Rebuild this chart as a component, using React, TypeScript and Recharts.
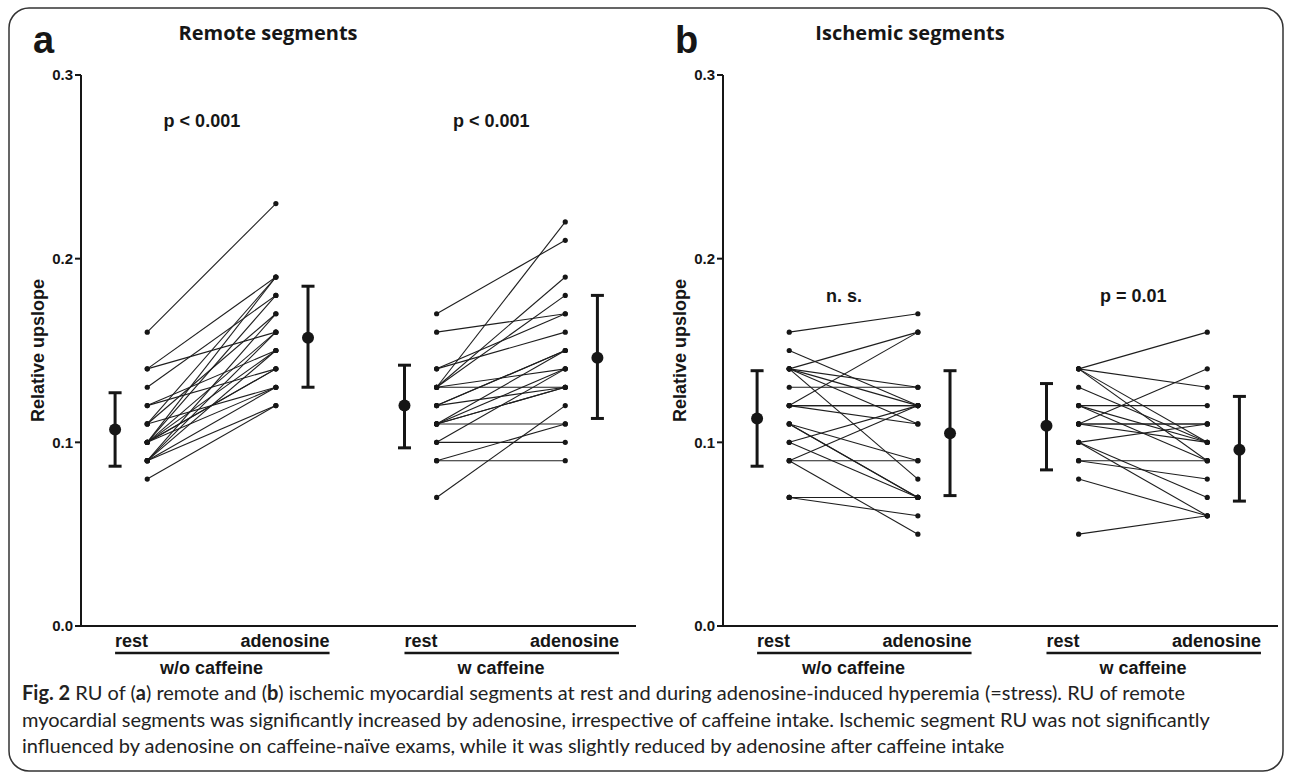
import React from 'react'
import { ComposedChart, Scatter, XAxis, YAxis, ErrorBar, Label } from 'recharts'

// x slots (chart units): mean bar, rest dots, adenosine dots, mean bar; 2nd group shifted
const MEAN_REST_X = 1
const REST_X = 2
const ADEN_X = 6
const MEAN_ADEN_X = 7
const GROUP_SHIFT = 9
const GROUP_TICKS = [4, 13]
const NOTE_X = [3.7, 12.7]

const groupLabels = ['w/o caffeine', 'w caffeine']
const phaseLabels = ['rest', 'adenosine']
const yTicks = [0, 0.1, 0.2, 0.3]

// remote segments, [rest, adenosine] per exam
const remoteNoCaffeine: [number, number][] = [
  [0.16, 0.23], [0.14, 0.19], [0.14, 0.16], [0.13, 0.18], [0.12, 0.14], [0.12, 0.15],
  [0.11, 0.19], [0.11, 0.17], [0.11, 0.13], [0.10, 0.19], [0.10, 0.18], [0.10, 0.16],
  [0.10, 0.15], [0.10, 0.14], [0.10, 0.13], [0.10, 0.14], [0.09, 0.17], [0.09, 0.16],
  [0.09, 0.15], [0.09, 0.13], [0.09, 0.12], [0.08, 0.12],
]
const remoteCaffeine: [number, number][] = [
  [0.17, 0.21], [0.16, 0.17], [0.14, 0.17], [0.14, 0.16], [0.13, 0.22], [0.13, 0.19],
  [0.13, 0.18], [0.13, 0.13], [0.13, 0.14], [0.12, 0.15], [0.12, 0.15], [0.12, 0.13],
  [0.11, 0.15], [0.11, 0.14], [0.11, 0.13], [0.11, 0.13], [0.11, 0.11], [0.10, 0.10],
  [0.10, 0.14], [0.09, 0.09], [0.09, 0.11], [0.07, 0.12],
]

// ischemic segments
const ischemicNoCaffeine: [number, number][] = [
  [0.16, 0.17], [0.15, 0.12], [0.14, 0.16], [0.14, 0.13], [0.14, 0.12], [0.14, 0.11],
  [0.14, 0.08], [0.13, 0.13], [0.12, 0.16], [0.12, 0.12], [0.12, 0.12], [0.12, 0.11],
  [0.11, 0.09], [0.11, 0.07], [0.11, 0.07], [0.10, 0.12], [0.10, 0.07], [0.09, 0.09],
  [0.09, 0.12], [0.09, 0.05], [0.07, 0.07], [0.07, 0.07], [0.07, 0.06],
]
const ischemicCaffeine: [number, number][] = [
  [0.14, 0.16], [0.14, 0.13], [0.14, 0.09], [0.14, 0.10], [0.13, 0.10], [0.12, 0.12],
  [0.12, 0.09], [0.12, 0.10], [0.11, 0.14], [0.11, 0.11], [0.11, 0.11], [0.11, 0.10],
  [0.10, 0.11], [0.10, 0.07], [0.10, 0.06], [0.09, 0.09], [0.09, 0.08], [0.08, 0.06],
  [0.05, 0.06],
]

// [mean, lower, upper]: w/o rest, w/o adenosine, w rest, w adenosine
const remoteMeans = [[0.107, 0.087, 0.127], [0.157, 0.13, 0.185], [0.12, 0.097, 0.142], [0.146, 0.113, 0.18]]
const ischemicMeans = [[0.113, 0.087, 0.139], [0.105, 0.071, 0.139], [0.109, 0.085, 0.132], [0.096, 0.068, 0.125]]

const remoteNotes = ['p < 0.001', 'p < 0.001']
const ischemicNotes = ['n. s.', 'p = 0.01']
const REMOTE_NOTE_Y = 0.275
const ISCHEMIC_NOTE_Y = 0.18

const W = 642
const H = 690
const Y_AXIS_W = 81
const RIGHT = 6
const X_DOMAIN: [number, number] = [-0.06, 17.2]
const UNIT = (W - Y_AXIS_W - RIGHT) / (X_DOMAIN[1] - X_DOMAIN[0])
const INK = '#161616'
const ARIAL = "'Liberation Sans', Arial, sans-serif"

function GroupTick(props: any) {
  const { x, y, payload } = props
  const gi = GROUP_TICKS.indexOf(payload.value)
  const left = x - 3 * UNIT
  const right = x + 3.67 * UNIT
  return (
    <g fontFamily={ARIAL} fontWeight={700} fontSize={18} fill={INK}>
      <text x={left} y={y + 21} textAnchor="start">{phaseLabels[0]}</text>
      <text x={right} y={y + 21} textAnchor="end">{phaseLabels[1]}</text>
      <line x1={left} x2={right} y1={y + 27} y2={y + 27} stroke={INK} strokeWidth={2.5} />
      <text x={x} y={y + 48} textAnchor="middle">{groupLabels[gi]}</text>
    </g>
  )
}

const smallDot = (p: any) => <circle cx={p.cx} cy={p.cy} r={2.6} fill={INK} />
const bigDot = (p: any) => <circle cx={p.cx} cy={p.cy} r={6} fill={INK} />
const noteText = (p: any) => (
  <text x={p.cx} y={p.cy} dy="0.35em" textAnchor="middle" fontFamily={ARIAL}
    fontWeight={700} fontSize={18} fill={INK}>{p.payload.text}</text>
)

interface PanelProps {
  groups: [number, number][][]
  means: number[][]
  notes: string[]
  noteY: number
}

function Panel({ groups, means, notes, noteY }: PanelProps) {
  const pairs = groups.flatMap((g, gi) =>
    g.map(([r, a]) => [
      { x: REST_X + gi * GROUP_SHIFT, y: r },
      { x: ADEN_X + gi * GROUP_SHIFT, y: a },
    ])
  )
  const meanData = means.map(([m, lo, hi], i) => ({
    x: (i % 2 === 0 ? MEAN_REST_X : MEAN_ADEN_X) + Math.floor(i / 2) * GROUP_SHIFT,
    y: m,
    err: [m - lo, hi - m],
  }))
  const noteData = notes.map((text, i) => ({ x: NOTE_X[i], y: noteY, text }))

  return (
    <ComposedChart width={W} height={H} margin={{ top: 75, right: RIGHT, bottom: 0, left: 0 }}>
      <XAxis
        type="number"
        dataKey="x"
        domain={X_DOMAIN}
        ticks={GROUP_TICKS}
        interval={0}
        height={64}
        tickSize={0}
        tickMargin={0}
        tickLine={false}
        axisLine={{ stroke: INK, strokeWidth: 2 }}
        tick={<GroupTick />}
        allowDataOverflow
      />
      <YAxis
        type="number"
        dataKey="y"
        domain={[0, 0.3]}
        ticks={yTicks}
        width={Y_AXIS_W}
        tickFormatter={(v: number) => v.toFixed(1)}
        tick={{ fontSize: 15, fontWeight: 700, fill: INK, fontFamily: ARIAL }}
        tickSize={6}
        tickMargin={2}
        tickLine={{ stroke: INK, strokeWidth: 2 }}
        axisLine={{ stroke: INK, strokeWidth: 2 }}
        allowDataOverflow
      >
        <Label
          content={({ viewBox }: any) => {
            const cx = 38
            const cy = viewBox.y + viewBox.height / 2
            return (
              <text x={cx} y={cy} transform={`rotate(-90 ${cx} ${cy})`} textAnchor="middle"
                dominantBaseline="central" fontFamily={ARIAL} fontWeight={700} fontSize={18} fill={INK}>
                Relative upslope
              </text>
            )
          }}
        />
      </YAxis>
      {pairs.map((d, i) => (
        <Scatter key={i} data={d} line={{ stroke: '#1e1e1e', strokeWidth: 1.1 }} lineType="joint"
          shape={smallDot} isAnimationActive={false} />
      ))}
      <Scatter data={meanData} shape={bigDot} isAnimationActive={false}>
        <ErrorBar dataKey="err" direction="y" width={6.5} stroke={INK} strokeWidth={3} />
      </Scatter>
      <Scatter data={noteData} shape={noteText} isAnimationActive={false} />
    </ComposedChart>
  )
}

export default function App() {
  return (
    <div style={{ position: 'absolute', left: 0, top: 0, width: 1292, height: 776, background: '#fff', overflow: 'hidden' }}>
      <div style={{ position: 'absolute', left: 0, top: 0 }}>
        <Panel groups={[remoteNoCaffeine, remoteCaffeine]} means={remoteMeans} notes={remoteNotes} noteY={REMOTE_NOTE_Y} />
      </div>
      <div style={{ position: 'absolute', left: 642, top: 0 }}>
        <Panel groups={[ischemicNoCaffeine, ischemicCaffeine]} means={ischemicMeans} notes={ischemicNotes} noteY={ISCHEMIC_NOTE_Y} />
      </div>
      <svg width={1292} height={776} style={{ position: 'absolute', left: 0, top: 0, pointerEvents: 'none' }}>
        <rect x={9} y={8} width={1274} height={763} rx={20} fill="none" stroke="#333" strokeWidth={1.5} />
        <text x={33} y={53} fontFamily={ARIAL} fontWeight={700} fontSize={38} fill={INK}>a</text>
        <text x={675} y={53} fontFamily={ARIAL} fontWeight={700} fontSize={38} fill={INK}>b</text>
        <text x={268} y={40} textAnchor="middle" fontFamily="'Open Sans', sans-serif" fontWeight={700} fontSize={20} fill={INK}>Remote segments</text>
        <text x={910} y={40} textAnchor="middle" fontFamily="'Open Sans', sans-serif" fontWeight={700} fontSize={20} fill={INK}>Ischemic segments</text>
      </svg>
      <div style={{ position: 'absolute', left: 22, top: 679, fontFamily: 'Lato, sans-serif', fontSize: 20, lineHeight: '26.5px', color: '#222', whiteSpace: 'nowrap' }}>
        <div><b>Fig. 2</b> RU of (<b>a</b>) remote and (<b>b</b>) ischemic myocardial segments at rest and during adenosine-induced hyperemia (=stress). RU of remote</div>
        <div>myocardial segments was significantly increased by adenosine, irrespective of caffeine intake. Ischemic segment RU was not significantly</div>
        <div>influenced by adenosine on caffeine-naïve exams, while it was slightly reduced by adenosine after caffeine intake</div>
      </div>
    </div>
  )
}
